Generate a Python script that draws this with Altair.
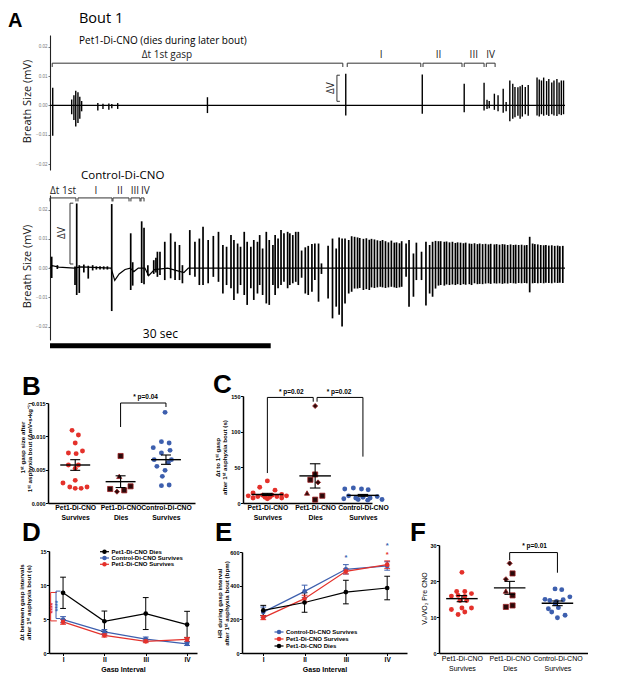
import json
import altair as alt
import pandas as pd

SANS = "Liberation Sans"
HUM = "Open Sans"
RED = "#e4312b"
BLUE = "#3d5fae"
DARK = "#2b0a0a"
DARK_EDGE = "#9c1f22"
SHAPES = ["circle", "square", "triangle-up", "diamond"]
OX, OY = 48, 35          # page position of the chart origin
CW, CH = 540, 618        # chart data rectangle

# ---------------- Panel A : top trace (Pet1-Di-CNO) ----------------
TOP_T = [0.37, 2.95, 3.25, 3.5, 3.8, 4.05, 4.3,
         6.5, 7.2, 8.0, 8.4, 9.2,
         21.4, 40.2, 50.6, 56.3, 59.0,
         59.4, 59.7, 60.4, 60.9, 61.6, 62.0, 62.5, 62.9, 63.2, 63.6, 63.9, 64.2, 64.6, 65.0,
         66.2, 66.5, 66.8, 67.1, 67.5, 67.8, 68.2, 68.5, 68.9, 69.2, 69.5, 69.8]
TOP_HI = [0.0060, 0.0020, 0.0035, 0.0050, 0.0045, 0.0030, 0.0015,
          0.0008, 0.0006, 0.0007, 0.0005, 0.0008,
          0.0028, 0.0108, 0.0105, 0.0074, 0.0077,
          0.0019, 0.0015, 0.0040, 0.0035, 0.0057, 0.0012, 0.0085, 0.0074, 0.0063, 0.0062, 0.0065, 0.0070, 0.0063, 0.0070,
          0.0095, 0.0088, 0.0085, 0.0095, 0.0083, 0.0090, 0.0078, 0.0085, 0.0090, 0.0078, 0.0085, 0.0085]
TOP_LO = [-0.0103, -0.0030, -0.0050, -0.0072, -0.0060, -0.0045, -0.0020,
          -0.0017, -0.0012, -0.0015, -0.0010, -0.0012,
          -0.0026, -0.0034, -0.0028, -0.0023, -0.0017,
          -0.0012, -0.0010, -0.0015, -0.0020, -0.0025, -0.0020, -0.0054, -0.0045, -0.0040, -0.0035, -0.0045, -0.0038, -0.0030, -0.0035,
          -0.0034, -0.0038, -0.0030, -0.0035, -0.0032, -0.0036, -0.0030, -0.0034, -0.0036, -0.0030, -0.0033, -0.0030]
TOP_BASE_T = [0, 70]
TOP_BASE_V = [0.0, 0.0]
TOP_SEG_S = [0.3, 40.4, 50.7, 56.3, 59.3]
TOP_SEG_E = [39.8, 50.4, 56.0, 59.0, 60.5]
TOP_LAB = ["Δt 1st gasp", "I", "II", "III", "IV"]
TOP_LAB_T = [15.9, 45.0, 52.8, 57.6, 59.9]

# ---------------- Panel A : bottom trace (Control-Di-CNO) ----------------
BOT_T1 = [0.23, 1.0, 3.4, 3.63, 3.98, 4.6, 5.2, 5.8, 6.3, 6.8, 7.3, 7.8, 8.39, 10.97, 11.24, 12.46, 12.78, 13.3]
BOT_HI1 = [0.0039, 0.0010, 0.0005, 0.0221, 0.0010, 0.0012, 0.0008, 0.0010, 0.0006, 0.0006, 0.0006, 0.0006,
           0.0219, 0.0119, 0.0020, 0.0160, 0.0138, 0.0010]
BOT_LO1 = [-0.0034, -0.0003, -0.0058, -0.0092, -0.0085, -0.0015, -0.0036, -0.0008, -0.0005, -0.0005, -0.0005, -0.0005,
           -0.0147, -0.0075, -0.0060, -0.0051, -0.0055, -0.0025]
BOT_T2 = [14.1, 14.4, 14.6, 14.95, 15.6, 16.4, 17.0, 17.6, 18.0, 19.0, 19.7, 20.3, 20.8, 21.5, 22.2, 22.9, 23.5,
          24.0, 24.6, 25.0, 25.5, 25.9, 26.4, 26.8, 27.3, 27.7, 28.2, 28.5, 28.9, 29.4, 29.8, 30.3, 30.6, 31.0,
          31.4, 31.8, 32.3, 32.6, 33.0, 33.4, 33.75]
BOT_HI2 = [0.0027, 0.0035, 0.0056, 0.0056, 0.0090, 0.0119, 0.0090, 0.0079, 0.0010, 0.0130, 0.0090, 0.0101, 0.0141,
           0.0096, 0.0110, 0.0124, 0.0079, 0.0073, 0.0113, 0.0096, 0.0084, 0.0073, 0.0124, 0.0090, 0.0073, 0.0096,
           0.0090, 0.0113, 0.0067, 0.0124, 0.0096, 0.0079, 0.0113, 0.0101, 0.0130, 0.0119, 0.0124, 0.0119, 0.0113,
           0.0124, 0.0124]
BOT_LO2 = [-0.0020, -0.0015, -0.0030, -0.0024, -0.0041, -0.0035, -0.0041, -0.0041, -0.0052, -0.0024, -0.0030,
           -0.0058, -0.0058, -0.0052, -0.0030, -0.0047, -0.0087, -0.0058, -0.0069, -0.0109, -0.0087, -0.0058,
           -0.0092, -0.0126, -0.0069, -0.0109, -0.0087, -0.0058, -0.0092, -0.0121, -0.0126, -0.0058, -0.0092,
           -0.0069, -0.0058, -0.0047, -0.0069, -0.0058, -0.0052, -0.0047, -0.0058]
BOT_T3 = [34.2, 34.7, 35.1, 35.6, 36.0, 36.5, 36.9, 37.8, 38.4, 38.9,
          39.3, 39.7, 40.1, 40.6, 41.0, 41.4, 41.8, 42.1, 42.6, 43.0,
          43.4, 43.7, 44.1, 44.5, 44.9, 45.2, 45.6, 46.0, 46.4, 46.8,
          47.1, 47.5, 47.8, 48.4, 48.8, 49.4, 49.8, 50.5, 51.1, 51.6,
          52.0, 52.4, 52.8, 53.1, 53.6, 53.9, 54.3, 54.7, 55.1, 55.4,
          55.8, 56.2, 56.5, 57.0, 57.3, 57.7, 58.1, 58.4, 58.8, 59.2,
          59.6, 59.9, 60.4, 60.7, 61.1, 61.5, 61.8, 62.2, 62.6, 63.0,
          63.3, 63.7, 64.1, 64.5, 64.8, 65.2, 65.6, 65.9, 66.3, 66.7,
          67.1, 67.4, 67.8, 68.2, 68.6, 69.0, 69.3, 69.7]
BOT_HI3 = [0.0060, 0.0071, 0.0076, 0.0082, 0.0084, 0.0084, 0.0016, 0.0076, 0.0101, 0.0067,
           0.0105, 0.0101, 0.0101, 0.0096, 0.0109, 0.0107, 0.0105, 0.0103, 0.0100, 0.0102,
           0.0097, 0.0100, 0.0098, 0.0095, 0.0093, 0.0096, 0.0092, 0.0088, 0.0094, 0.0087,
           0.0088, 0.0085, 0.0092, 0.0084, 0.0096, 0.0050, 0.0087, 0.0056, 0.0090, 0.0079,
           0.0090, 0.0093, 0.0092, 0.0092, 0.0090, 0.0091, 0.0088, 0.0090, 0.0086, 0.0088,
           0.0087, 0.0085, 0.0087, 0.0084, 0.0083, 0.0085, 0.0082, 0.0084, 0.0082, 0.0083,
           0.0081, 0.0083, 0.0081, 0.0082, 0.0080, 0.0082, 0.0081, 0.0079, 0.0081, 0.0079,
           0.0080, 0.0079, 0.0080, 0.0078, 0.0079, 0.0107, 0.0084, 0.0082, 0.0081, 0.0079,
           0.0078, 0.0079, 0.0077, 0.0078, 0.0076, 0.0077, 0.0075, 0.0076]
BOT_LO3 = [-0.0033, -0.0087, -0.0092, -0.0081, -0.0041, -0.0115, -0.0020, -0.0104, -0.0172, -0.0132,
           -0.0160, -0.0200, -0.0121, -0.0087, -0.0081, -0.0070, -0.0070, -0.0068, -0.0075, -0.0072,
           -0.0075, -0.0066, -0.0068, -0.0066, -0.0064, -0.0066, -0.0068, -0.0066, -0.0064, -0.0066,
           -0.0068, -0.0066, -0.0064, -0.0030, -0.0132, -0.0098, -0.0041, -0.0041, -0.0128, -0.0087,
           -0.0098, -0.0070, -0.0060, -0.0058, -0.0060, -0.0056, -0.0058, -0.0056, -0.0058, -0.0055,
           -0.0058, -0.0055, -0.0057, -0.0055, -0.0058, -0.0052, -0.0055, -0.0054, -0.0055, -0.0053,
           -0.0052, -0.0054, -0.0052, -0.0053, -0.0052, -0.0054, -0.0052, -0.0053, -0.0051, -0.0052,
           -0.0053, -0.0051, -0.0052, -0.0051, -0.0052, -0.0083, -0.0052, -0.0051, -0.0052, -0.0051,
           -0.0052, -0.0050, -0.0051, -0.0052, -0.0050, -0.0051, -0.0050, -0.0051]
BOT_BASE_T = [0, 0.3, 1.2, 3.3, 4.2, 8.3, 8.8, 9.4, 10.2, 10.9, 11.4, 12.0, 12.9, 13.4, 14.2, 16.0, 18.2, 18.8, 70]
BOT_BASE_V = [0, 0.0008, 0.0003, 0.0, 0.0004, 0.0, -0.0042, -0.002, -0.0005, 0.0, -0.0012, 0.0, 0.0, -0.0026,
              -0.0005, 0.0, -0.0015, 0.0, 0.0]
BOT_SEG_S = [0.0, 3.8, 8.56, 11.0, 12.37]
BOT_SEG_E = [3.53, 8.43, 10.74, 12.23, 12.78]
BOT_LAB = ["Δt 1st", "I", "II", "III", "IV"]
BOT_LAB_T = [1.77, 6.25, 9.5, 11.55, 12.95]
SCALE_BAR = [0.0, 30.0]

# ---------------- Panel B ----------------
CATS = [["Pet1-Di-CNO", "Survives"], ["Pet1-Di-CNO", "Dies"], ["Control-Di-CNO", "Survives"]]
B_RED = [0.0109, 0.0102, 0.0090, 0.0078, 0.0075, 0.0074, 0.0057, 0.0057, 0.0052, 0.0034, 0.0030, 0.0024, 0.0022, 0.0022, 0.0024]
B_RED_DX = [-0.07, 0.07, 0.0, 0.16, -0.15, 0.02, -0.15, 0.07, 0.0, 0.0, -0.27, -0.12, 0.0, 0.13, 0.26]
B_DIES = [0.00705, 0.0040, 0.0021, 0.0017, 0.0019, 0.0025]
B_DIES_DX = [0.0, -0.03, -0.23, -0.08, 0.08, 0.22]
B_DIES_SHAPE = ["square", "triangle-up", "square", "diamond", "square", "square"]
B_BLUE = [0.0136, 0.0092, 0.0090, 0.0083, 0.0075, 0.0079, 0.0065, 0.0065, 0.0061, 0.0055, 0.0049, 0.0040, 0.0026, 0.0027]
B_BLUE_DX = [-0.02, -0.1, 0.07, -0.28, -0.1, 0.09, -0.26, 0.12, 0.05, -0.2, -0.02, -0.08, -0.1, 0.07]
B_MEAN = [0.0057, 0.0032, 0.0065]
B_SEM = [0.0008, 0.00088, 0.0007]

# ---------------- Panel C ----------------
C_RED = [31, 22, 18, 14, 12, 11, 11, 10, 10, 9, 9, 8, 8, 7, 7, 6]
C_RED_DX = [0.0, -0.16, 0.16, -0.3, 0.3, -0.1, 0.1, -0.4, 0.4, -0.2, 0.2, -0.05, 0.05, -0.3, 0.3, 0.0]
C_DIES = [136, 40, 32.6, 28.9, 14, 10.2, 4.7]
C_DIES_DX = [0.0, 0.0, -0.1, 0.06, -0.17, 0.15, 0.0]
C_DIES_SHAPE = ["diamond", "square", "square", "diamond", "triangle-up", "square", "square"]
C_BLUE = [21, 19.6, 19.6, 18.6, 10, 9, 8, 7, 7, 6, 5, 5, 4]
C_BLUE_DX = [-0.2, -0.38, -0.03, 0.11, -0.3, 0.3, 0.0, -0.15, 0.15, -0.4, 0.4, -0.1, 0.1]
C_MEAN = [12, 38, 10.7]
C_SEM = [1.5, 17, 1.3]

# ---------------- Panel D ----------------
INTERVALS = ["I", "II", "III", "IV"]
D_NAMES = ["Pet1-Di-CNO Dies", "Control-Di-CNO Survives", "Pet1-Di-CNO Survives"]
D_COLORS = ["#000000", BLUE, RED]
D_MEANS = [[8.85, 4.67, 5.8, 4.18], [4.9, 3.1, 2.05, 1.35], [4.57, 2.6, 1.72, 2.0]]
D_SEMS = [[2.3, 1.5, 2.35, 1.95], [0.45, 0.35, 0.3, 0.25], [0.35, 0.25, 0.2, 0.3]]

# ---------------- Panel E ----------------
E_NAMES = ["Control-Di-CNO Survives", "Pet1-Di-CNO Survives", "Pet1-Di-CNO Dies"]
E_COLORS = [BLUE, RED, "#000000"]
E_MEANS = [[243, 366, 497, 517], [210, 323, 485, 525], [253, 300, 362, 386]]
E_SEMS = [[30, 37, 28, 25], [12, 20, 15, 22], [30, 58, 70, 70]]

# ---------------- Panel F ----------------
F_RED = [22.4, 17.1, 17.1, 16.5, 15.8, 16.0, 15.7, 14.6, 14.6, 12.1, 12.5, 12.5, 11.4, 10.7]
F_RED_DX = [0.0, -0.11, 0.06, 0.2, -0.22, -0.08, 0.06, -0.04, 0.1, -0.22, 0.0, 0.2, 0.06, -0.08]
F_DIES = [24.9, 22.1, 20.5, 17.2, 16.0, 12.8, 13.2]
F_DIES_DX = [0.0, 0.06, -0.08, -0.08, 0.06, -0.08, 0.06]
F_DIES_SHAPE = ["diamond", "square", "diamond", "triangle-up", "square", "square", "square"]
F_BLUE = [17.8, 17.6, 14.9, 14.6, 14.3, 14.8, 15.6, 13.7, 12.6, 12.3, 10.5, 11.4, 9.8]
F_BLUE_DX = [-0.05, 0.09, -0.26, -0.16, -0.02, 0.12, 0.26, -0.05, 0.02, -0.19, 0.16, -0.12, 0.0]
F_MEAN = [15.1, 18.1, 13.8]
F_SEM = [0.85, 1.8, 0.65]


def one():
    return pd.DataFrame({"a": [0]})


def ptext(txt, px, py, size, font=SANS, weight="normal", align="left", baseline="alphabetic", angle=0, color="black"):
    """Text placed at a page position (converted to chart coordinates)."""
    return alt.Chart(one()).mark_text(text=txt, font=font, fontSize=size, fontWeight=weight, align=align,
                                      baseline=baseline, angle=angle, color=color).encode(
        x=alt.value(px - OX), y=alt.value(py - OY))


def trace_panel(xr, yr, ydom, title_y, t, hi, lo, base_t, base_v, seg_s, seg_e, seg_y, seg_tip,
                lab, lab_t, lab_y, dv, dv_lab, spike_w=1.4, bar=None):
    xs = alt.Scale(domain=[0, 70], range=xr, nice=False, zero=False)
    ys = alt.Scale(domain=ydom, range=yr, nice=False, zero=False)
    ax = alt.Axis(orient="left", offset=-xr[0], values=[-0.02, -0.01, 0.0, 0.01, 0.02], format=".2f",
                  labelFont=SANS, labelFontSize=4.5, labelColor="#777777", labelPadding=1, tickSize=2,
                  tickColor="#555555", tickWidth=0.8, domainColor="#222222", domainWidth=1.1, grid=False,
                  title="Breath Size (mV)", titleFont=HUM, titleFontSize=11, titleFontWeight="normal",
                  titleColor="#111111", titleAngle=270, titleBaseline="bottom", titleAlign="center",
                  titleX=-18, titleY=title_y)

    def X(f):
        return alt.X(f, scale=xs, axis=None)

    def Y(f):
        return alt.Y(f, scale=ys, axis=ax)

    layers = [
        alt.Chart(pd.DataFrame({"t": base_t, "v": base_v})).mark_line(color="black", strokeWidth=1.2).encode(
            x=X("t:Q"), y=Y("v:Q")),
        alt.Chart(pd.DataFrame({"t": t, "hi": hi, "lo": lo})).mark_rule(color="black", strokeWidth=spike_w).encode(
            x=X("t:Q"), y=Y("hi:Q"), y2="lo:Q"),
    ]
    seg = pd.DataFrame({"s": seg_s, "e": seg_e, "y": [seg_y] * len(seg_s)})
    layers.append(alt.Chart(seg).mark_rule(color="#333333", strokeWidth=1).encode(
        x=X("s:Q"), x2="e:Q", y=Y("y:Q")))
    tips = pd.DataFrame({"t": list(seg_s) + list(seg_e)})
    tips["y"] = seg_y
    tips["y2"] = seg_y - seg_tip
    layers.append(alt.Chart(tips).mark_rule(color="#333333", strokeWidth=1).encode(
        x=X("t:Q"), y=Y("y:Q"), y2="y2:Q"))
    labs = pd.DataFrame({"t": lab_t, "y": [lab_y] * len(lab), "txt": lab})
    layers.append(alt.Chart(labs).mark_text(font=HUM, fontSize=10, baseline="alphabetic", color="#222222").encode(
        x=X("t:Q"), y=Y("y:Q"), text="txt:N"))
    dvt, dvt2, dvlo, dvhi = dv
    dvdf = pd.DataFrame({"t": [dvt2, dvt, dvt, dvt2], "v": [dvhi, dvhi, dvlo, dvlo], "o": [0, 1, 2, 3]})
    layers.append(alt.Chart(dvdf).mark_line(color="#333333", strokeWidth=1).encode(
        x=X("t:Q"), y=Y("v:Q"), order="o:Q"))
    dvl = pd.DataFrame({"t": [dv_lab[0]], "v": [dv_lab[1]], "txt": ["ΔV"]})
    layers.append(alt.Chart(dvl).mark_text(font=HUM, fontSize=10, angle=270, baseline="middle", color="#222222").encode(
        x=X("t:Q"), y=Y("v:Q"), text="txt:N"))
    if bar is not None:
        bar_y, lab_y2 = bar
        layers.append(alt.Chart(pd.DataFrame({"s": [SCALE_BAR[0]], "e": [SCALE_BAR[1]], "y": [bar_y]})).mark_rule(
            color="black", strokeWidth=5).encode(x=X("s:Q"), x2="e:Q", y=Y("y:Q")))
        layers.append(alt.Chart(pd.DataFrame({"t": [sum(SCALE_BAR) / 2], "y": [lab_y2], "txt": ["30 sec"]})).mark_text(
            font=HUM, fontSize=12, baseline="alphabetic").encode(x=X("t:Q"), y=Y("y:Q"), text="txt:N"))
    return alt.layer(*layers)


def y_axis(xr0, vals, fmt, title, tx, ty, tsize=6.5, tweight="bold"):
    lh = tsize + 1.5
    nlines = len(title) if isinstance(title, list) else 1
    return alt.Axis(orient="left", offset=-xr0, values=vals, format=fmt, tickSize=2.5, tickWidth=1,
                    tickColor="black", domainColor="black", domainWidth=1.5,
                    labelFont=SANS, labelFontSize=5.5, labelFontWeight="bold", labelColor="black", labelPadding=0.5,
                    grid=False, title=title, titleFont=SANS, titleFontSize=tsize, titleFontWeight=tweight,
                    titleColor="black", titleAngle=270, titleBaseline="bottom", titleAlign="center",
                    titleX=tx - lh * (nlines - 1), titleY=ty, titleLineHeight=lh)


def scatter_panel(xr, yr, xdom, ydom, yvals, fmt, ytitle, tx, ty, cat_size, cat_weight, cat_lh,
                  red, dies, blue, means, sems, sig_lines, sig_texts, tsize=6.2, tweight="bold"):
    xs = alt.Scale(domain=xdom, range=xr, nice=False, zero=False)
    ys = alt.Scale(domain=ydom, range=yr, nice=False, zero=False)
    xax = alt.Axis(orient="bottom", offset=yr[0] - CH, values=[0, 1, 2],
                   labelExpr=json.dumps(CATS) + "[datum.value]", ticks=False,
                   domainColor="black", domainWidth=1.5, labelFont=SANS, labelFontSize=cat_size,
                   labelFontWeight=cat_weight, labelColor="black", labelLineHeight=cat_lh, labelPadding=1.5,
                   labelBaseline="top", labelAngle=0, labelOverlap=False, labelFlush=False, grid=False, title=None)
    yax = y_axis(xr[0], yvals, fmt, ytitle, tx, ty, tsize, tweight)

    def X(f):
        return alt.X(f, scale=xs, axis=xax)

    def Y(f):
        return alt.Y(f, scale=ys, axis=yax)

    layers = []
    rdf = pd.DataFrame({"x": [0 + d for d in red[1]], "v": red[0]})
    layers.append(alt.Chart(rdf).mark_point(filled=True, size=24, opacity=1, color=RED).encode(x=X("x:Q"), y=Y("v:Q")))
    ddf = pd.DataFrame({"x": [1 + d for d in dies[1]], "v": dies[0], "shp": dies[2]})
    layers.append(alt.Chart(ddf).mark_point(filled=True, size=26, opacity=1, fill=DARK, stroke=DARK_EDGE,
                                            strokeWidth=0.8).encode(
        x=X("x:Q"), y=Y("v:Q"), shape=alt.Shape("shp:N", scale=alt.Scale(domain=SHAPES, range=SHAPES), legend=None)))
    bdf = pd.DataFrame({"x": [2 + d for d in blue[1]], "v": blue[0]})
    layers.append(alt.Chart(bdf).mark_point(filled=True, size=24, opacity=1, color=BLUE).encode(x=X("x:Q"), y=Y("v:Q")))
    m = pd.DataFrame({"g": [0, 1, 2], "m": means, "s": sems})
    m["xl"] = m["g"] - 0.33
    m["xr"] = m["g"] + 0.33
    m["cl"] = m["g"] - 0.11
    m["cr"] = m["g"] + 0.11
    m["lo"] = m["m"] - m["s"]
    m["hi"] = m["m"] + m["s"]
    layers.append(alt.Chart(m).mark_rule(color="black", strokeWidth=1.4).encode(x=X("xl:Q"), x2="xr:Q", y=Y("m:Q")))
    layers.append(alt.Chart(m).mark_rule(color="black", strokeWidth=1.1).encode(x=X("g:Q"), y=Y("lo:Q"), y2="hi:Q"))
    layers.append(alt.Chart(m).mark_rule(color="black", strokeWidth=1.1).encode(x=X("cl:Q"), x2="cr:Q", y=Y("lo:Q")))
    layers.append(alt.Chart(m).mark_rule(color="black", strokeWidth=1.1).encode(x=X("cl:Q"), x2="cr:Q", y=Y("hi:Q")))
    rows = []
    for k, (lxs, lys) in enumerate(sig_lines):
        for o, (a, b) in enumerate(zip(lxs, lys)):
            rows.append({"id": k, "o": o, "x": a, "v": b})
    layers.append(alt.Chart(pd.DataFrame(rows)).mark_line(color="black", strokeWidth=1).encode(
        x=X("x:Q"), y=Y("v:Q"), order="o:Q", detail="id:N"))
    sdf = pd.DataFrame({"x": [s[0] for s in sig_texts], "v": [s[1] for s in sig_texts], "txt": [s[2] for s in sig_texts]})
    layers.append(alt.Chart(sdf).mark_text(font=SANS, fontSize=6.5, fontWeight="bold", baseline="middle").encode(
        x=X("x:Q"), y=Y("v:Q"), text="txt:N"))
    return alt.layer(*layers)


def line_panel(xr, yr, xdom, ydom, yvals, ytitle, tx, ty, names, colors, means, sems, extras):
    xs = alt.Scale(domain=xdom, range=xr, nice=False, zero=False)
    ys = alt.Scale(domain=ydom, range=yr, nice=False, zero=False)
    xax = alt.Axis(orient="bottom", offset=yr[0] - CH, values=[0, 1, 2, 3],
                   labelExpr=json.dumps(INTERVALS) + "[datum.value]", tickSize=2.5,
                   tickWidth=1, tickColor="black", domainColor="black", domainWidth=1.5, labelFont=SANS,
                   labelFontSize=6.5, labelFontWeight="bold", labelColor="black", labelPadding=1, labelAngle=0,
                   labelOverlap=False, labelFlush=False, grid=False, title="Gasp Interval", titleFont=SANS,
                   titleFontSize=7, titleFontWeight="bold", titleColor="black", titlePadding=2)
    yax = y_axis(xr[0], yvals, "d", ytitle, tx, ty, 6.2)

    def X(f):
        return alt.X(f, scale=xs, axis=xax)

    def Y(f):
        return alt.Y(f, scale=ys, axis=yax)

    rows = []
    for name, ml, sl in zip(names, means, sems):
        for i, (mv, sv) in enumerate(zip(ml, sl)):
            rows.append({"name": name, "i": i, "m": mv, "lo": mv - sv, "hi": mv + sv, "cl": i - 0.07, "cr": i + 0.07})
    df = pd.DataFrame(rows)
    caps = pd.concat([df.assign(cy=df["lo"]), df.assign(cy=df["hi"])], ignore_index=True)
    cs = alt.Scale(domain=names, range=colors)
    col = alt.Color("name:N", scale=cs, legend=None)
    layers = [
        alt.Chart(df).mark_line(strokeWidth=1.2).encode(x=X("i:Q"), y=Y("m:Q"), color=col),
        alt.Chart(df).mark_rule(strokeWidth=1).encode(x=X("i:Q"), y=Y("lo:Q"), y2="hi:Q", color=col),
        alt.Chart(caps).mark_rule(strokeWidth=1).encode(x=X("cl:Q"), x2="cr:Q", y=Y("cy:Q"), color=col),
        alt.Chart(df).mark_point(filled=True, size=22, opacity=1).encode(x=X("i:Q"), y=Y("m:Q"), color=col),
    ]
    for ex in extras:
        if ex[0] == "line":
            _, lxs, lys, c = ex
            layers.append(alt.Chart(pd.DataFrame({"x": lxs, "v": lys, "o": list(range(len(lxs)))})).mark_line(
                color=c, strokeWidth=1).encode(x=X("x:Q"), y=Y("v:Q"), order="o:Q"))
        else:
            _, tx_, ty_, txt, c, size, ang = ex
            layers.append(alt.Chart(pd.DataFrame({"x": [tx_], "v": [ty_], "txt": [txt]})).mark_text(
                font=SANS, fontSize=size, fontWeight="bold", color=c, angle=ang, baseline="middle").encode(
                x=X("x:Q"), y=Y("v:Q"), text="txt:N"))
    return alt.layer(*layers)


def legend_block(names, colors, sym_px, row_py0, row_py2):
    """Series key: rows placed through a small linear scale (page pixels minus chart origin)."""
    df = pd.DataFrame({"k": list(range(len(names))), "name": names})
    ys = alt.Scale(domain=[0, len(names) - 1], range=[row_py0 - OY, row_py2 - OY], nice=False, zero=False)
    Y = alt.Y("k:Q", scale=ys, axis=None)
    col = alt.Color("name:N", scale=alt.Scale(domain=names, range=colors), legend=None)
    sx = sym_px - OX
    return alt.layer(
        alt.Chart(df).mark_rule(strokeWidth=1.2).encode(x=alt.value(sx - 4.5), x2=alt.value(sx + 4.5), y=Y, color=col),
        alt.Chart(df).mark_point(filled=True, size=20, opacity=1).encode(x=alt.value(sx), y=Y, color=col),
        alt.Chart(df).mark_text(align="left", baseline="middle", font=SANS, fontSize=6, fontWeight="bold",
                                color="black").encode(x=alt.value(sx + 7), y=Y, text="name:N"),
    )


# ---- panels (ranges are page pixel positions minus the chart origin) ----
a_top = trace_panel([2, 517], [135, 0], [-0.022, 0.024], 66, TOP_T, TOP_HI, TOP_LO, TOP_BASE_T, TOP_BASE_V,
                    TOP_SEG_S, TOP_SEG_E, 0.0144, 0.0013, TOP_LAB, TOP_LAB_T, 0.0162,
                    (39.0, 39.4, 0.0014, 0.0103), (38.2, 0.0059))

a_bot = trace_panel([2, 517], [305, 160], [-0.0246, 0.025], 231,
                    BOT_T1 + BOT_T2 + BOT_T3, BOT_HI1 + BOT_HI2 + BOT_HI3, BOT_LO1 + BOT_LO2 + BOT_LO3,
                    BOT_BASE_T, BOT_BASE_V, BOT_SEG_S, BOT_SEG_E, 0.0240, 0.0012, BOT_LAB, BOT_LAB_T, 0.0252,
                    (2.72, 3.17, 0.0014, 0.0222), (1.6, 0.012), spike_w=1.7, bar=(-0.0266, -0.0239))

panel_b = scatter_panel([0, 147], [468, 368], [-0.6, 2.64], [0, 0.015], [0, 0.005, 0.010, 0.015], ".3f",
                        ["1ˢᵗ gasp size after", "1ˢᵗ asphyxia bout (ΔmV•s•kg⁻¹)"], -15, 412, 6.8, "bold", 9.5,
                        (B_RED, B_RED_DX), (B_DIES, B_DIES_DX, B_DIES_SHAPE), (B_BLUE, B_BLUE_DX), B_MEAN, B_SEM,
                        [([1, 1, 2, 2], [0.0114, 0.015, 0.015, 0.0144])], [(1.55, 0.0159, "*  p=0.04")])

panel_c = scatter_panel([195, 324], [468, 361], [-0.51, 2.19], [0, 150], [0, 50, 100, 150], "d",
                        ["Δt to 1ˢᵗ gasp", "after 1ˢᵗ asphyxia bout (s)"], -15, 422, 6.8, "bold", 9.5,
                        (C_RED, C_RED_DX), (C_DIES, C_DIES_DX, C_DIES_SHAPE), (C_BLUE, C_BLUE_DX), C_MEAN, C_SEM,
                        [([0, 0, 0.96, 0.96], [42, 148, 148, 142]), ([1.04, 1.04, 2, 2], [142, 148, 148, 65])],
                        [(0.5, 155, "*  p=0.02"), (1.5, 155, "*  p=0.02")])

panel_d = line_panel([1, 149], [618, 516], [-0.34, 3.24], [0, 15], [0, 5, 10, 15],
                     ["Δt between gasp intervals", "after 1ˢᵗ asphyxia bout (s)"], -17, 567,
                     D_NAMES, D_COLORS, D_MEANS, D_SEMS,
                     [("line", [-0.15, -0.30, -0.30, -0.15], [8.9, 8.9, 4.72, 4.72], RED),
                      ("line", [-0.06, -0.17, -0.17, -0.06], [9.1, 9.1, 5.07, 5.07], BLUE),
                      ("text", -0.245, 6.6, "****", RED, 7, 270),
                      ("text", -0.115, 6.9, "****", BLUE, 7, 270)])

panel_e = line_panel([194, 359], [618, 517], [-0.515, 3.48], [0, 600], [0, 200, 400, 600],
                     ["HR during gasp interval", "after 1ˢᵗ asphyxia bout (bpm)"], -12, 568,
                     E_NAMES, E_COLORS, E_MEANS, E_SEMS,
                     [("text", 2, 566, "*", BLUE, 7.5, 0),
                      ("text", 3, 634, "*", BLUE, 7.5, 0),
                      ("text", 3, 584, "*", RED, 7.5, 0)])

panel_f = scatter_panel([391, 540], [618, 510], [-0.48, 2.64], [0, 30], [0, 10, 20, 30], "d",
                        "Vₑ/VO₂ Pre CNO", -12, 563, 7, "normal", 10,
                        (F_RED, F_RED_DX), (F_DIES, F_DIES_DX, F_DIES_SHAPE), (F_BLUE, F_BLUE_DX), F_MEAN, F_SEM,
                        [([1, 1, 2, 2], [25.8, 27.9, 27.9, 22.3])], [(1.52, 29.6, "*  p=0.01")],
                        tsize=7, tweight="normal")

leg_d = legend_block(D_NAMES, D_COLORS, 104.5, 551.7, 564.3)
leg_e = legend_block(E_NAMES, E_COLORS, 279, 632, 646)

texts = alt.layer(
    alt.Chart(one()).mark_rule(strokeWidth=1, opacity=0).encode(
        x=alt.value(8.5 - OX), x2=alt.value(8.5 - OX), y=alt.value(8.5 - OY), y2=alt.value(8.5 - OY)),
    ptext("A", 8, 26.5, 20, weight="bold"),
    ptext("Bout 1", 79, 23, 14.5, font=HUM),
    ptext("Pet1-Di-CNO (dies during later bout)", 79, 44, 10, font=HUM),
    ptext("Control-Di-CNO", 81, 179, 11.5, font=HUM),
    ptext("B", 22, 395, 26, weight="bold"),
    ptext("C", 213, 393, 26, weight="bold"),
    ptext("D", 22, 541, 26, weight="bold"),
    ptext("E", 215, 541, 26, weight="bold"),
    ptext("F", 410, 541, 26, weight="bold"),
)

chart = alt.layer(a_top, a_bot, panel_b, panel_c, panel_d, panel_e, panel_f, leg_d, leg_e, texts).resolve_scale(
    x="independent", y="independent", color="independent", shape="independent"
).resolve_axis(x="independent", y="independent").properties(
    width=CW, height=CH, padding=0
).configure_view(strokeWidth=0)

chart.save("out.html", embed_options={"renderer": "svg", "actions": False})
